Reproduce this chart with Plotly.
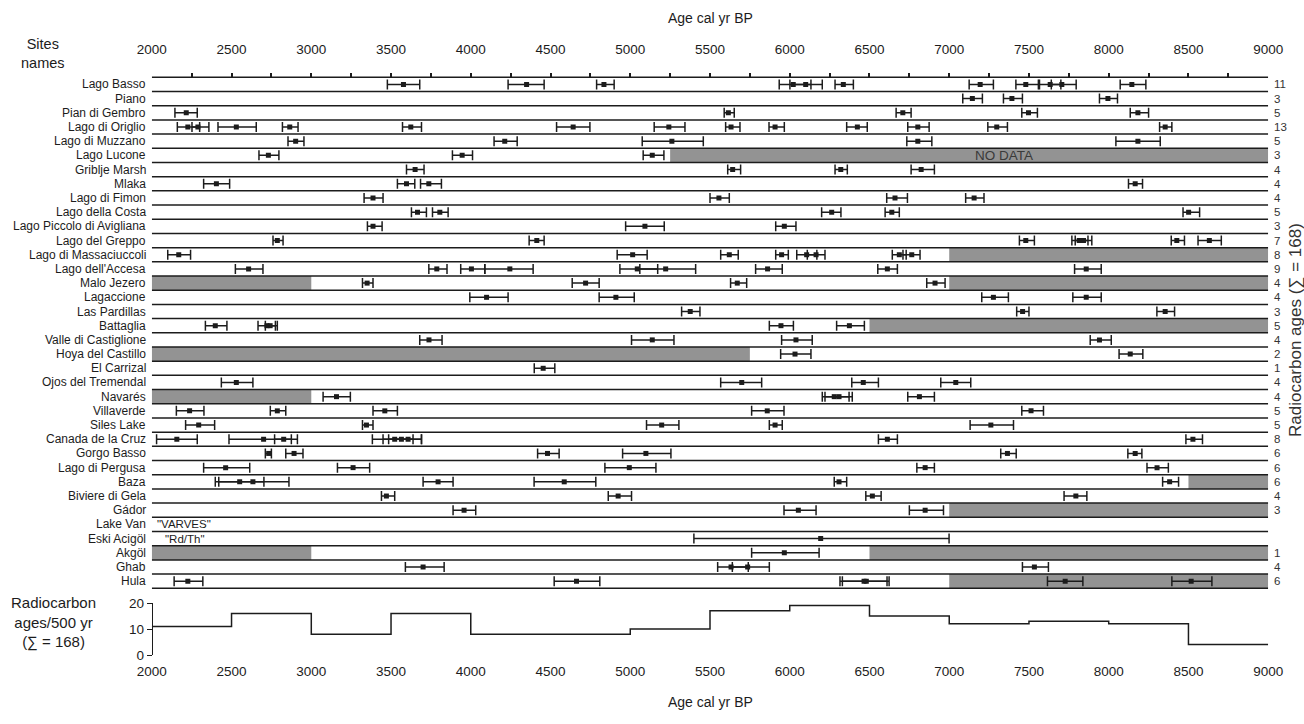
import plotly.graph_objects as go

W, H = 1304, 724

SITES = ["Lago Basso", "Piano", "Pian di Gembro", "Lago di Origlio", "Lago di Muzzano",
         "Lago Lucone", "Griblje Marsh", "Mlaka", "Lago di Fimon", "Lago della Costa",
         "Lago Piccolo di Avigliana", "Lago del Greppo", "Lago di Massaciuccoli",
         "Lago dell'Accesa", "Malo Jezero", "Lagaccione", "Las Pardillas", "Battaglia",
         "Valle di Castiglione", "Hoya del Castillo", "El Carrizal", "Ojos del Tremendal",
         "Navarés", "Villaverde", "Siles Lake", "Canada de la Cruz", "Gorgo Basso",
         "Lago di Pergusa", "Baza", "Biviere di Gela", "Gádor", "Lake Van", "Eski Acigöl",
         "Akgöl", "Ghab", "Hula"]

COUNTS = ["11", "3", "5", "13", "5", "3", "4", "4", "4", "5", "3", "7", "8", "9", "4", "4",
          "3", "5", "4", "2", "1", "4", "4", "5", "5", "8", "6", "6", "6", "4", "3", "", "",
          "1", "4", "6"]

# (calibrated age, lower bound, upper bound) per site
DATES = [
    [(3578, 3477, 3680), (4350, 4234, 4460), (4835, 4789, 4899), (6022, 5934, 6133), (6100, 6001, 6204),
     (6336, 6284, 6399), (7194, 7125, 7277), (7480, 7418, 7559), (7633, 7566, 7700), (7706, 7640, 7796),
     (8145, 8072, 8233)],
    [(7145, 7085, 7208), (7393, 7340, 7459), (7995, 7942, 8055)],
    [(2216, 2145, 2285), (5615, 5589, 5652), (6709, 6667, 6761), (7497, 7455, 7553), (8183, 8135, 8250)],
    [(2226, 2160, 2300), (2289, 2252, 2358), (2530, 2415, 2655), (2865, 2819, 2917), (3624, 3572, 3691),
     (4642, 4538, 4747), (5242, 5150, 5343), (5632, 5598, 5688), (5908, 5870, 5966), (6424, 6357, 6486),
     (6803, 6740, 6874), (7298, 7242, 7365), (8354, 8319, 8396)],
    [(2902, 2854, 2954), (4213, 4146, 4291), (5261, 5075, 5458), (6803, 6734, 6891), (8183, 8045, 8323)],
    [(2731, 2672, 2797), (3946, 3885, 4011), (5138, 5081, 5211)],
    [(3651, 3597, 3707), (5642, 5611, 5692), (6320, 6284, 6361), (6824, 6761, 6907)],
    [(2405, 2325, 2488), (3597, 3540, 3649), (3737, 3685, 3816), (8166, 8124, 8212)],
    [(3387, 3331, 3450), (5556, 5500, 5621), (6660, 6608, 6738), (7156, 7103, 7218)],
    [(3666, 3628, 3722), (3806, 3760, 3858), (6263, 6200, 6321), (6640, 6598, 6687), (8501, 8466, 8570)],
    [(3387, 3352, 3444), (5092, 4971, 5213), (5966, 5912, 6039)],
    [(2787, 2760, 2823), (4414, 4366, 4460), (7480, 7440, 7534), (7815, 7769, 7870), (7842, 7790, 7894),
     (8427, 8392, 8475), (8631, 8560, 8706)],
    [(2169, 2100, 2243), (5015, 4918, 5106), (5621, 5567, 5677), (5949, 5912, 5991), (6106, 6044, 6170),
     (6165, 6110, 6221), (6687, 6643, 6730), (6765, 6710, 6817)],
    [(2607, 2524, 2697), (3787, 3737, 3851), (4004, 3937, 4088), (4245, 4088, 4391), (5044, 4935, 5172),
     (5222, 5060, 5410), (5861, 5786, 5953), (6612, 6552, 6675), (7859, 7786, 7953)],
    [(3350, 3321, 3387), (4720, 4636, 4805), (5671, 5629, 5730), (6911, 6859, 6974)],
    [(4099, 3994, 4234), (4910, 4805, 5025), (7277, 7204, 7371), (7859, 7775, 7953)],
    [(5376, 5322, 5437), (7460, 7423, 7500), (8354, 8302, 8413)],
    [(2398, 2336, 2471), (2722, 2666, 2775), (2742, 2712, 2787), (5945, 5872, 6023), (6374, 6294, 6468)],
    [(3738, 3680, 3820), (5138, 5008, 5274), (6039, 5949, 6141), (7942, 7884, 8016)],
    [(6033, 5943, 6133), (8135, 8065, 8214)],
    [(4454, 4398, 4527)],
    [(2530, 2436, 2634), (5699, 5567, 5824), (6461, 6389, 6556), (7041, 6947, 7135)],
    [(3158, 3074, 3245), (6279, 6204, 6372), (6309, 6221, 6392), (6813, 6740, 6907)],
    [(2237, 2154, 2327), (2787, 2743, 2840), (3461, 3387, 3540), (5859, 5761, 5964), (7513, 7455, 7591)],
    [(2294, 2212, 2394), (3346, 3321, 3387), (5197, 5102, 5305), (5908, 5872, 5953), (7261, 7131, 7403)],
    [(2157, 2030, 2285), (2701, 2484, 2875), (2827, 2770, 2913), (3523, 3383, 3638), (3565, 3450, 3691),
     (3607, 3485, 3691), (6612, 6556, 6675), (8528, 8484, 8588)],
    [(2733, 2712, 2750), (2892, 2840, 2948), (4481, 4419, 4554), (5098, 4952, 5255), (7365, 7323, 7420),
     (8166, 8120, 8208)],
    [(2463, 2325, 2614), (3262, 3164, 3366), (4994, 4841, 5161), (6849, 6797, 6907), (8303, 8240, 8374)],
    [(2551, 2398, 2703), (2634, 2420, 2860), (3795, 3701, 3889), (4586, 4397, 4784), (6309, 6279, 6357),
     (8382, 8338, 8438)],
    [(3471, 3440, 3523), (4924, 4862, 5008), (6518, 6477, 6573), (7794, 7720, 7863)],
    [(3958, 3889, 4031), (6054, 5964, 6165), (6849, 6750, 6964)],
    [],
    [(6194, 5399, 6999)],
    [(5966, 5761, 6184)],
    [(3701, 3590, 3833), (5632, 5548, 5740), (5736, 5640, 5872), (7534, 7459, 7622)],
    [(2226, 2140, 2320), (4663, 4523, 4809), (6466, 6315, 6610), (6480, 6330, 6623), (7727, 7616, 7838),
     (8517, 8396, 8647)],
]

ROW_NOTES = {5: "NO DATA", 31: '"VARVES"', 32: '"Rd/Th"'}
NOTE_AGE = {5: 7345, 31: 2020, 32: 2068}

# grey "no data" intervals: (row, start age, end age)
NO_DATA = [(5, 5250, 9000), (12, 7000, 9000), (14, 2000, 3000), (14, 7000, 9000),
           (17, 6500, 9000), (19, 2000, 5750), (22, 2000, 3000), (28, 8500, 9000),
           (30, 7000, 9000), (33, 2000, 3000), (33, 6500, 9000), (35, 7000, 9000)]

BIN_EDGES = [2000, 2500, 3000, 3500, 4000, 4500, 5000, 5500, 6000, 6500, 7000, 7500, 8000, 8500, 9000]
BIN_COUNTS = [11, 16, 8, 16, 8, 8, 10, 17, 19, 15, 12, 13, 12, 4]

AGE_MIN, AGE_MAX = 2000, 9000
MINOR_TICKS = list(range(2250, 9000, 250))
LABEL_TICKS = list(range(2000, 9001, 500))

FONT = "Liberation Sans, Arial, sans-serif"
INK = "#1c1c1c"
GREY = "#939393"


def fx(p):
    return p / W


def fy(p):
    return 1 - p / H


# page-pixel geometry
DATA_X = (151.8, 1268.2)      # 2000 .. 9000
ROW_TOP, ROW_H = 77.3, 14.194
N = len(SITES)
YPAD = 0.3
main_top = ROW_TOP - YPAD * ROW_H
main_bot = ROW_TOP + (N + YPAD) * ROW_H

fig = go.Figure()

for row, a0, a1 in NO_DATA:
    fig.add_shape(type="rect", xref="x", yref="y", x0=a0, x1=a1,
                  y0=row - 0.5, y1=row + 0.5,
                  fillcolor=GREY, line_width=0, layer="below")

for k in range(N + 1):
    fig.add_shape(type="line", xref="x", yref="y", x0=AGE_MIN, x1=AGE_MAX,
                  y0=k - 0.5, y1=k - 0.5, line=dict(color=INK, width=1.5), layer="below")

xs, ys, ep, em = [], [], [], []
for i, rows in enumerate(DATES):
    for age, lo, hi in rows:
        xs.append(age)
        ys.append(i)
        ep.append(hi - age)
        em.append(age - lo)

fig.add_trace(go.Scatter(
    x=xs, y=ys, mode="markers", xaxis="x", yaxis="y",
    marker=dict(symbol="square", size=5, color=INK),
    error_x=dict(type="data", symmetric=False, array=ep, arrayminus=em,
                 width=5, thickness=1.5, color=INK),
    hoverinfo="x+y", showlegend=False))

fig.add_trace(go.Scatter(
    x=BIN_EDGES, y=BIN_COUNTS + [BIN_COUNTS[-1]], mode="lines", line_shape="hv",
    line=dict(color=INK, width=1.5), xaxis="x2", yaxis="y2", showlegend=False,
    hoverinfo="skip"))

for ax in ("x3", "x4", "x5"):
    fig.add_trace(go.Scatter(x=[None], y=[None], xaxis=ax, yaxis="y", showlegend=False,
                             hoverinfo="skip"))

annotations = []
for i, name in enumerate(SITES):
    annotations.append(dict(x=fx(148), xref="paper", y=i, yref="y", text=name,
                            showarrow=False, xanchor="right", yanchor="middle",
                            font=dict(size=12, color=INK, family=FONT)))
    if COUNTS[i]:
        annotations.append(dict(x=fx(1272), xref="paper", y=i, yref="y", text=COUNTS[i],
                                showarrow=False, xanchor="left", yanchor="middle",
                                font=dict(size=11.5, color="#333333", family=FONT)))
for row, note in ROW_NOTES.items():
    if row == 5:
        annotations.append(dict(x=NOTE_AGE[row], xref="x", y=row, yref="y", text=note,
                                showarrow=False, xanchor="center", yanchor="middle",
                                font=dict(size=13.5, color="#3a3a3a", family=FONT)))
    else:
        annotations.append(dict(x=NOTE_AGE[row], xref="x", y=row, yref="y", text=note,
                                showarrow=False, xanchor="left", yanchor="middle",
                                font=dict(size=11.5, color=INK, family=FONT)))


def page_text(x, y, text, size=13, angle=0, color=INK):
    return dict(x=fx(x), y=fy(y), xref="paper", yref="paper", text=text, showarrow=False,
                xanchor="center", yanchor="middle", textangle=angle,
                font=dict(size=size, color=color, family=FONT))


annotations += [
    page_text(710, 18, "Age cal yr BP", size=14),
    page_text(710, 702, "Age cal yr BP", size=14),
    page_text(43, 54, "Sites<br>names", size=14.5),
    page_text(1295, 330, "Radiocarbon ages (∑ = 168)", size=17, angle=-90, color="#333333"),
    page_text(54, 622, "Radiocarbon<br>ages/500 yr<br>(∑ = 168)", size=15),
]

axis_common = dict(showgrid=False, zeroline=False, fixedrange=True, automargin=False)
data_dom = [fx(DATA_X[0]), fx(DATA_X[1])]
fig.update_layout(
    width=W, height=H, margin=dict(l=0, r=0, t=0, b=0, autoexpand=False),
    paper_bgcolor="white", plot_bgcolor="rgba(0,0,0,0)",
    font=dict(family=FONT, color=INK),
    annotations=annotations,
    xaxis=dict(domain=data_dom, range=[AGE_MIN, AGE_MAX], visible=False, anchor="y",
               **axis_common),
    yaxis=dict(domain=[fy(main_bot), fy(main_top)], range=[N - 0.5 + YPAD, -0.5 - YPAD],
               visible=False, anchor="x", **axis_common),
    xaxis2=dict(domain=data_dom, range=[AGE_MIN, AGE_MAX], visible=False, anchor="y2",
                **axis_common),
    yaxis2=dict(domain=[fy(655), fy(603)], range=[0, 20], anchor="free", position=data_dom[0],
                tickvals=[0, 10, 20], ticks="outside", ticklen=5, tickwidth=1.2, tickcolor=INK,
                showline=True, linecolor=INK, linewidth=1.2,
                tickfont=dict(size=13.5, color=INK, family=FONT), **axis_common),
    xaxis3=dict(domain=data_dom, range=[AGE_MIN, AGE_MAX],
                anchor="free", position=fy(57), side="top", tickvals=LABEL_TICKS,
                ticks="", showline=False, tickfont=dict(size=13.5, color=INK, family=FONT),
                **axis_common),
    xaxis4=dict(domain=data_dom, range=[AGE_MIN, AGE_MAX],
                anchor="free", position=fy(ROW_TOP), side="top", tickvals=MINOR_TICKS,
                ticks="outside", ticklen=4, tickwidth=1.5, tickcolor=INK,
                showticklabels=False, showline=False, **axis_common),
    xaxis5=dict(domain=data_dom, range=[AGE_MIN, AGE_MAX],
                anchor="free", position=fy(661), side="bottom", tickvals=LABEL_TICKS,
                ticks="", showline=False, tickfont=dict(size=13.5, color=INK, family=FONT),
                **axis_common),
)

fig.write_html("out.html", config={"displayModeBar": False},
               post_script="document.body.style.margin = '0px';")
